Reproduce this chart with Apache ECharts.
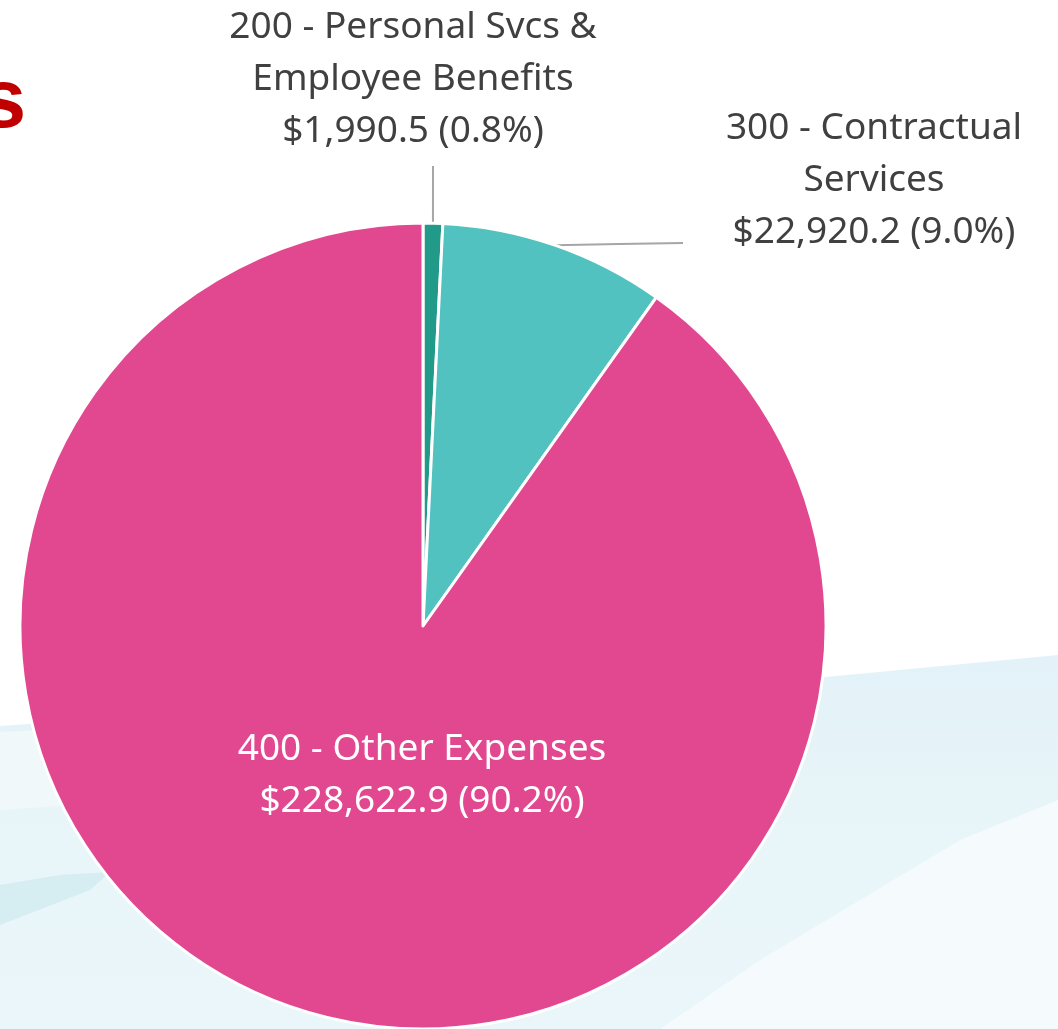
<!DOCTYPE html>
<html><head><meta charset="utf-8">
<script src="https://cdn.jsdelivr.net/npm/echarts@6/dist/echarts.min.js"></script>
<style>html,body{margin:0;padding:0;background:#fff;overflow:hidden}#c{width:1058px;height:1029px}</style>
</head><body><div id="c"></div>
<script>
// ---- data ----
const categories = ['200 - Personal Svcs &\nEmployee Benefits', '300 - Contractual\nServices', '400 - Other Expenses'];
const values = [1990.5, 22920.2, 228622.9];
const sliceColors = ['#229a89', '#51c2bf', '#e24890'];
const titleFragment = 's';

const total = values.reduce((a, b) => a + b, 0);
function fmtMoney(v) {
  return '$' + v.toLocaleString('en-US', { minimumFractionDigits: 1, maximumFractionDigits: 1 });
}

const labelSpots = [
  { x: 413, y: 79, end: [433, 166] },
  { x: 874, y: 180, end: [683, 243] },
  { x: 422, y: 775, end: null }
];

const chart = echarts.init(document.getElementById('c'), null, { renderer: 'canvas' });

const data = categories.map((name, i) => {
  const item = { name: name, value: values[i], itemStyle: { color: sliceColors[i] } };
  if (i === 2) {
    item.label = { position: 'inside', color: '#ffffff' };
    item.labelLine = { show: false };
  }
  return item;
});

chart.setOption({
  backgroundColor: '#ffffff',
  animation: false,
  graphic: [
    { type: 'polygon', z: -10, silent: true,
      shape: { points: [[0, 726], [200, 712], [420, 695], [826, 677], [1058, 655], [1058, 1029], [0, 1029]] },
      style: { fill: new echarts.graphic.LinearGradient(0, 0, 0, 1, [
        { offset: 0, color: '#e3f2f8' }, { offset: 0.5, color: '#e8f5f9' }, { offset: 1, color: '#eaf6fa' }]) } },
    { type: 'polygon', z: -9, silent: true,
      shape: { points: [[1058, 800], [960, 840], [860, 900], [760, 960], [660, 1029], [1058, 1029]] },
      style: { fill: '#f5fafc' } },
    { type: 'polygon', z: -9, silent: true,
      shape: { points: [[0, 732], [150, 724], [150, 800], [0, 810]] },
      style: { fill: '#f0f8fa' } },
    { type: 'polygon', z: -9, silent: true,
      shape: { points: [[0, 885], [60, 875], [110, 872], [90, 890], [0, 925]] },
      style: { fill: '#d6edf2' } },
    { type: 'text', z: 10, left: -20, top: 63,
      style: { text: titleFragment, font: 'bold 83px "Liberation Sans", Arial, sans-serif', fill: '#c00000' } }
  ],
  series: [{
    type: 'pie',
    center: [423, 626],
    radius: 403,
    startAngle: 90,
    clockwise: true,
    avoidLabelOverlap: false,
    data: data,
    itemStyle: { borderColor: '#ffffff', borderWidth: 3 },
    label: {
      show: true,
      position: 'outside',
      fontFamily: '"Noto Sans", sans-serif',
      fontSize: 37,
      lineHeight: 52,
      color: '#404040',
      align: 'center',
      formatter: function (p) {
        return p.name + '\n' + fmtMoney(p.value) + ' (' + (p.value / total * 100).toFixed(1) + '%)';
      }
    },
    labelLine: {
      show: true,
      lineStyle: { color: '#a6a6a6', width: 2 }
    },
    labelLayout: function (params) {
      const s = labelSpots[params.dataIndex];
      const out = { x: s.x, y: s.y, align: 'center', verticalAlign: 'middle' };
      if (s.end && params.labelLinePoints) {
        const p0 = params.labelLinePoints[0];
        const mid = [(p0[0] + s.end[0]) / 2, (p0[1] + s.end[1]) / 2];
        out.labelLinePoints = [p0, mid, s.end];
      }
      return out;
    }
  }]
});
</script>
</body></html>
